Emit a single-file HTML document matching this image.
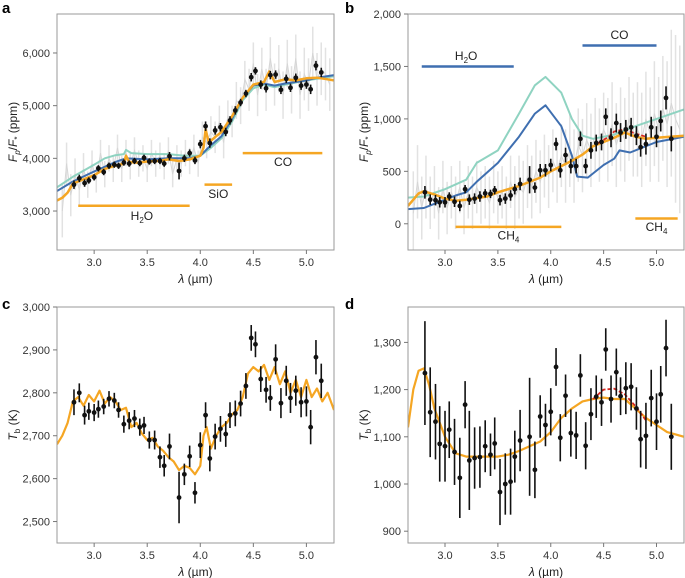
<!DOCTYPE html>
<html><head><meta charset="utf-8">
<style>
html,body{margin:0;padding:0;background:#fff;}
svg{display:block;font-family:"Liberation Sans",sans-serif;}
</style></head>
<body>
<svg id="fig" width="685" height="578" viewBox="0 0 685 578"></svg>
<script>
// ---- shared wavelengths of binned points ----
const wl = [2.81,2.86,2.91,2.95,3.0,3.04,3.09,3.14,3.19,3.23,3.28,3.33,3.38,3.43,3.47,3.52,3.57,3.62,3.66,3.71,3.80,3.85,3.90,3.95,4.00,4.05,4.09,4.14,4.19,4.24,4.28,4.33,4.38,4.43,4.48,4.52,4.57,4.62,4.66,4.71,4.76,4.81,4.85,4.90,4.95,5.0,5.04,5.09,5.14];
// panel a
const ptsA = [3500,3620,3530,3580,3640,3810,3740,3860,3880,3860,3920,3900,3950,3910,4010,3940,3950,3950,3900,4040,3760,4000,4100,3960,4270,4610,4290,4530,4590,4500,4720,4910,5060,5230,5540,5660,5400,5330,5580,5590,5300,5510,5340,5530,5380,5400,5310,5760,5630];
const errA = [80,70,70,60,60,60,60,60,60,60,60,60,60,60,60,60,60,60,60,80,160,70,70,70,80,90,90,80,80,80,80,80,70,70,80,70,80,80,80,80,80,80,80,80,80,80,90,90,90];
const orangeAx = [2.65,2.7,2.75,2.8,2.9,3.0,3.1,3.2,3.28,3.3,3.33,3.4,3.5,3.6,3.7,3.8,3.9,4.0,4.03,4.05,4.08,4.15,4.2,4.3,4.4,4.5,4.6,4.65,4.7,4.8,4.9,5.0,5.1,5.2,5.26];
const orangeAy = [3200,3250,3350,3520,3600,3680,3800,3860,3900,4050,3930,3920,3940,3950,3980,3950,3980,4050,4200,4550,4300,4420,4500,4800,5150,5400,5450,5650,5450,5500,5480,5520,5530,5500,5480];
const blueAx = [2.65,2.8,3.0,3.2,3.3,3.5,3.7,3.9,4.0,4.1,4.2,4.3,4.4,4.5,4.6,4.7,4.8,4.9,5.0,5.1,5.26];
const blueAy = [3380,3560,3750,3930,4000,3980,4000,4000,4050,4250,4420,4750,5150,5380,5420,5380,5420,5450,5480,5530,5580];
const tealAx = [2.65,2.8,3.0,3.1,3.2,3.28,3.3,3.35,3.5,3.7,3.85,4.0,4.1,4.2,4.3,4.4,4.5,4.6,4.7,4.8,5.0,5.26];
const tealAy = [3450,3650,3880,4000,4060,4080,4160,4100,4080,4080,4050,4050,4200,4380,4700,5100,5330,5400,5350,5400,5480,5560];
const grayX = [2.7,2.74,2.78,2.82,2.86,2.9,2.94,2.98,3.02,3.06,3.1,3.14,3.18,3.22,3.26,3.3,3.34,3.38,3.42,3.46,3.5,3.54,3.58,3.62,3.66,3.7,3.74,3.78,3.82,3.86,3.9,3.94,3.98,4.02,4.06,4.1,4.14,4.18,4.22,4.26,4.3,4.34,4.38,4.42,4.46,4.5,4.54,4.58,4.62,4.66,4.7,4.74,4.78,4.82,4.86,4.9,4.94,4.98,5.02,5.06,5.1,5.14,5.18,5.22];
const grayA = [3000,3900,3300,3700,3400,3800,3500,3900,3600,4100,3700,4000,3800,4200,3800,4100,3850,4150,3900,4000,3800,4100,3900,4050,3850,4150,3700,4000,3900,4100,3950,4200,3900,4400,4300,4500,4400,4700,4300,4800,4700,5100,5000,5500,5300,5800,5200,5700,5300,5900,5400,5700,5200,5800,5300,5900,5200,5600,5400,6000,5500,5700,5600,5400];
const grayAerr = [500,400,400,300,300,300,250,250,250,250,250,250,250,250,250,250,250,250,250,250,250,250,250,250,250,250,250,250,250,250,250,250,250,300,300,300,300,300,300,300,300,350,350,350,400,400,400,400,400,400,400,450,450,450,450,450,450,500,500,500,500,500,500,500];
// panel b
const ptsB = [300,230,225,205,205,260,210,170,330,230,240,260,290,285,320,225,240,270,330,380,420,345,510,510,560,760,510,655,550,550,810,550,700,770,780,1020,820,960,870,900,920,840,730,760,920,830,980,1200,810];
const errB = [60,50,50,50,50,40,50,50,40,50,50,50,40,40,40,50,50,50,50,60,130,50,60,60,60,60,70,70,70,70,70,70,80,80,80,80,90,90,90,90,90,90,90,100,100,100,100,110,120];
const orangeBx = [2.65,2.75,2.8,2.9,3.0,3.1,3.2,3.4,3.5,3.7,3.9,4.0,4.1,4.2,4.3,4.4,4.5,4.6,4.7,4.8,4.9,5.0,5.26];
const orangeBy = [170,290,310,280,240,220,230,260,300,360,440,500,550,600,660,740,780,820,870,830,810,820,840];
const redBx = [4.45,4.55,4.6,4.7,4.8,4.9];
const redBy = [770,830,880,900,860,830];
const blueBx = [2.65,2.8,2.9,3.0,3.1,3.2,3.3,3.5,3.7,3.85,3.95,4.1,4.2,4.25,4.35,4.5,4.6,4.65,4.75,4.9,5.0,5.26];
const blueBy = [140,150,190,230,270,300,400,580,830,1050,1130,930,650,450,440,560,620,700,680,740,780,830];
const tealBx = [2.65,2.8,3.0,3.2,3.3,3.5,3.7,3.85,3.95,4.1,4.2,4.3,4.4,4.6,4.8,5.0,5.26];
const tealBy = [250,260,330,420,580,700,1050,1320,1400,1250,1000,840,810,850,930,1000,1090];
const grayB = [100,400,150,350,200,300,100,350,150,300,200,350,150,300,200,350,250,300,200,350,250,300,200,400,250,350,300,450,350,500,400,550,450,600,500,650,550,700,550,750,650,800,700,850,750,900,800,950,750,900,800,1000,850,900,800,1000,850,1050,900,1100,950,1150,1000,900];
const grayBerr = [400,350,300,300,250,250,250,250,250,250,250,250,250,250,250,250,250,250,250,250,250,250,250,250,300,300,300,300,300,300,300,300,300,300,300,300,350,350,350,350,350,350,350,350,350,350,400,400,400,400,400,400,400,450,450,450,450,500,500,500,600,700,800,800];
// panel c
const ptsC = [2778,2800,2748,2757,2754,2762,2768,2786,2782,2760,2727,2735,2740,2720,2724,2690,2690,2650,2630,2675,2556,2610,2652,2567,2678,2748,2647,2698,2716,2704,2748,2752,2775,2816,2928,2913,2832,2807,2788,2878,2776,2828,2788,2805,2778,2780,2720,2883,2828];
const errC = [30,22,22,20,20,20,18,18,18,18,20,20,20,20,20,20,22,25,25,30,60,25,25,25,30,30,30,30,30,30,30,30,30,30,30,30,30,30,30,35,35,35,35,35,35,35,40,40,40];
const orangeCx = [2.65,2.7,2.75,2.8,2.85,2.9,2.95,3.0,3.05,3.1,3.15,3.2,3.25,3.3,3.35,3.4,3.45,3.5,3.55,3.6,3.65,3.7,3.75,3.8,3.85,3.9,3.95,4.0,4.03,4.06,4.1,4.15,4.2,4.25,4.3,4.35,4.4,4.45,4.5,4.55,4.6,4.65,4.7,4.75,4.8,4.85,4.9,4.95,5.0,5.05,5.1,5.15,5.2,5.26];
const orangeCy = [2680,2700,2730,2780,2790,2770,2795,2780,2805,2775,2790,2780,2760,2765,2720,2730,2705,2690,2695,2675,2665,2650,2640,2620,2630,2625,2610,2630,2700,2720,2670,2700,2720,2730,2750,2760,2790,2845,2860,2850,2865,2830,2860,2820,2850,2800,2830,2790,2830,2790,2810,2780,2800,2760];
// panel d
const ptsD = [1235,1152,1132,1085,1080,1115,1068,1013,1168,1050,1055,1057,1080,1062,1086,983,1000,1005,1058,1092,1100,1030,1143,1125,1153,1248,1098,1187,1108,1103,1230,1081,1148,1185,1173,1285,1180,1237,1186,1203,1206,1160,1095,1102,1182,1132,1190,1288,1100];
const errD = [110,95,80,80,75,60,70,85,50,105,65,65,55,45,55,70,65,70,55,65,125,60,45,45,50,40,50,45,50,50,45,50,55,45,50,45,50,50,40,55,50,45,60,70,60,60,60,60,70];
const orangeDx = [2.65,2.7,2.75,2.8,2.85,2.9,3.0,3.1,3.2,3.4,3.5,3.6,3.7,3.8,3.9,4.0,4.1,4.2,4.3,4.4,4.5,4.6,4.7,4.8,4.9,5.0,5.1,5.26];
const orangeDy = [1120,1200,1240,1245,1210,1160,1100,1065,1058,1058,1058,1062,1070,1080,1090,1110,1140,1160,1175,1180,1183,1180,1180,1160,1140,1125,1110,1100];
const redDx = [4.4,4.5,4.6,4.7,4.8,4.9];
const redDy = [1180,1200,1202,1190,1165,1135];
const xTicks = [3.0,3.5,4.0,4.5,5.0];
const xTickLabels = ["3.0","3.5","4.0","4.5","5.0"];
const yTicksA = [3000,4000,5000,6000], yLabA = ["3,000","4,000","5,000","6,000"];
const yTicksB = [0,500,1000,1500,2000], yLabB = ["0","500","1,000","1,500","2,000"];
const yTicksC = [2500,2600,2700,2800,2900,3000], yLabC = ["2,500","2,600","2,700","2,800","2,900","3,000"];
const yTicksD = [900,1000,1100,1200,1300], yLabD = ["900","1,000","1,100","1,200","1,300"];

const NS = "http://www.w3.org/2000/svg";
const svg = document.getElementById('fig');
function el(tag, attrs, parent){ const e=document.createElementNS(NS,tag); for(const k in attrs) e.setAttribute(k,attrs[k]); (parent||svg).appendChild(e); return e; }
const ORANGE="#f5a623", BLUE="#3f6fb0", TEAL="#8fd3c1", RED="#d7261e";

function panel(name, L, R, T, B, ymin, ymax, yt, yl, letter, ytitleHTML){
  const g = el('g',{});
  
  
  const sx = v => L + (v-2.65)/(5.26-2.65)*(R-L);
  const sy = v => B - (v-ymin)/(ymax-ymin)*(B-T);
  const clipId = name+'-clip';
  const cp = el('clipPath',{id:clipId},g); el('rect',{x:L,y:T,width:R-L,height:B-T},cp);
  const plot = el('g',{'clip-path':'url(#'+clipId+')'},g);
  
  
  const frame = el('rect',{x:L,y:T,width:R-L,height:B-T,fill:'none',stroke:'#9a9a9a','stroke-width':1},g);
  
  
  xTicks.forEach((t,i)=>{
    const x=sx(t);
    el('line',{x1:x,x2:x,y1:B,y2:B+4,stroke:'#777'},g);
    const tx=el('text',{x:x,y:B+16,'font-size':11,'text-anchor':'middle',fill:'#333'},g); tx.textContent=xTickLabels[i];
    
    
  });
  yt.forEach((t,i)=>{
    const y=sy(t);
    el('line',{x1:L-4,x2:L,y1:y,y2:y,stroke:'#777'},g);
    const tx=el('text',{x:L-7,y:y+4,'font-size':11,'text-anchor':'end',fill:'#333'},g); tx.textContent=yl[i];
    
    
  });
  const xt=el('text',{x:(L+R)/2,y:B+33,'font-size':12,'text-anchor':'middle',fill:'#222'},g);
  xt.innerHTML='<tspan font-style="italic">λ</tspan> (µm)';
  
  
  const ytl=el('text',{transform:`translate(${L-40},${(T+B)/2}) rotate(-90)`,'font-size':12,'text-anchor':'middle',fill:'#222'},g);
  ytl.innerHTML=ytitleHTML;
  
  
  const lt=el('text',{x:letter[0],y:letter[1],'font-size':15,'font-weight':'bold',fill:'#000'},g);
  lt.textContent=letter[2];
  
  
  return {g,plot,sx,sy};
}
function line(p, xs, ys, color, w, name, dash){
  const d = xs.map((x,i)=>(i?'L':'M')+p.sx(x).toFixed(1)+','+p.sy(ys[i]).toFixed(1)).join('');
  const a={d:d,fill:'none',stroke:color,'stroke-width':w,'stroke-linejoin':'round'}; if(dash) a['stroke-dasharray']=dash;
  const e=el('path',a,p.plot);
  
  
}
function gray(p, ys, es, name){
  const g=el('g',{},p.plot);
  
  
  grayX.forEach((x,i)=>{
    el('line',{x1:p.sx(x),x2:p.sx(x),y1:p.sy(ys[i]-es[i]),y2:p.sy(ys[i]+es[i]),stroke:'#e2e2e2','stroke-width':1.5},g);
  });
  const d=grayX.map((x,i)=>(i?'L':'M')+p.sx(x).toFixed(1)+','+p.sy(ys[i]).toFixed(1)).join('');
  el('path',{d:d,fill:'none',stroke:'#d6d6d6','stroke-width':1},g);
}
function points(p, ys, es, name){
  const g=el('g',{},p.plot);
  
  
  wl.forEach((x,i)=>{
    const X=p.sx(x);
    el('line',{x1:X,x2:X,y1:p.sy(ys[i]-es[i]),y2:p.sy(ys[i]+es[i]),stroke:'#111','stroke-width':1.6},g);
    el('circle',{cx:X,cy:p.sy(ys[i]),r:2.4,fill:'#111'},g);
  });
}
function bar(p, x1, x2, y, color, label, lx, ly, name, sub){
  const e=el('line',{x1:p.sx(x1),x2:p.sx(x2),y1:p.sy(y),y2:p.sy(y),stroke:color,'stroke-width':2.5},p.g);
  
  
  const t=el('text',{x:p.sx(lx),y:p.sy(ly),'font-size':12,'text-anchor':'middle',fill:'#222'},p.g);
  t.innerHTML=label+(sub?'<tspan font-size="8" dy="3">'+sub+'</tspan>':'');
  
  
}
const FP='<tspan font-style="italic">F</tspan><tspan font-style="italic" font-size="8" dy="3">p</tspan><tspan dy="-3">/</tspan><tspan font-style="italic">F</tspan><tspan font-size="8" dy="3">*</tspan><tspan dy="-3"> (ppm)</tspan>';
const TB='<tspan font-style="italic">T</tspan><tspan font-size="8" dy="3">b</tspan><tspan dy="-3"> (K)</tspan>';

// Panel a
const pa = panel('panel-a',57,334,14,250,2260,6740,yTicksA,yLabA,[2,13,'a'],FP);
gray(pa, grayA, grayAerr, 'gray-spectrum-a');
line(pa, tealAx, tealAy, TEAL, 2, 'teal-model-a');
line(pa, blueAx, blueAy, BLUE, 2, 'blue-model-a');
line(pa, orangeAx, orangeAy, ORANGE, 2.5, 'orange-model-a');
points(pa, ptsA, errA, 'binned-data-a');
bar(pa,2.85,3.9,3100,ORANGE,'H','3.45',2830,'h2o-a');
pa.g.lastChild.innerHTML='H<tspan font-size="8" dy="3">2</tspan><tspan dy="-3">O</tspan>';
bar(pa,4.04,4.3,3500,ORANGE,'SiO',4.17,3250,'sio-a');
bar(pa,4.4,5.15,4100,ORANGE,'CO',4.78,3850,'co-a');

// Panel b
const pb = panel('panel-b',408,684,14,250,-250,2000,yTicksB,yLabB,[345,13,'b'],FP);
gray(pb, grayB, grayBerr, 'gray-spectrum-b');
line(pb, tealBx, tealBy, TEAL, 2, 'teal-model-b');
line(pb, blueBx, blueBy, BLUE, 2, 'blue-model-b');
line(pb, orangeBx, orangeBy, ORANGE, 2.5, 'orange-model-b');
line(pb, redBx, redBy, RED, 1.8, 'red-model-b','4,2');
points(pb, ptsB, errB, 'binned-data-b');
bar(pb,2.78,3.65,1500,BLUE,'',3.2,1560,'h2o-b');
pb.g.lastChild.innerHTML='H<tspan font-size="8" dy="3">2</tspan><tspan dy="-3">O</tspan>';
bar(pb,4.3,5.0,1700,BLUE,'CO',4.65,1760,'co-b');
bar(pb,3.1,4.1,-30,ORANGE,'CH',3.6,-150,'ch4-b','4');
bar(pb,4.8,5.2,50,ORANGE,'CH',5.0,-70,'ch4-b2','4');

// Panel c
const pc = panel('panel-c',57,334,307,543,2450,3000,yTicksC,yLabC,[2,309,'c'],TB);
line(pc, orangeCx, orangeCy, ORANGE, 2.2, 'orange-model-c');
points(pc, ptsC, errC, 'binned-data-c');

// Panel d
const pd = panel('panel-d',408,684,307,543,875,1375,yTicksD,yLabD,[345,309,'d'],TB);
line(pd, orangeDx, orangeDy, ORANGE, 2.2, 'orange-model-d');
line(pd, redDx, redDy, RED, 1.8, 'red-model-d','4,2');
points(pd, ptsD, errD, 'binned-data-d');
</script>
</body></html>
